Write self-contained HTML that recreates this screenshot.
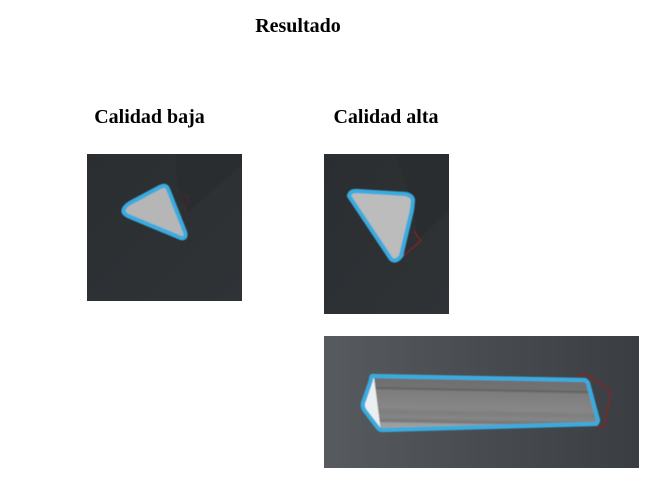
<!DOCTYPE html>
<html>
<head>
<meta charset="utf-8">
<style>
html,body{margin:0;padding:0;background:#fff;width:649px;height:491px;overflow:hidden}
svg{display:block}
text{font-family:"Liberation Serif",serif;font-weight:bold;fill:#000}
</style>
</head>
<body>
<svg width="649" height="491" viewBox="0 0 649 491">
<defs>
<linearGradient id="g1" x1="0" y1="0" x2="1" y2="1"><stop offset="0" stop-color="#2b2e31"/><stop offset="1" stop-color="#2f3336"/></linearGradient>
<linearGradient id="g3" x1="0" y1="0" x2="1" y2="0"><stop offset="0" stop-color="#575b5f"/><stop offset="0.5" stop-color="#484c50"/><stop offset="1" stop-color="#3a3e42"/></linearGradient>
<linearGradient id="prism" gradientUnits="userSpaceOnUse" x1="480" y1="378" x2="479" y2="430">
<stop offset="0" stop-color="#6f6f6f"/><stop offset="0.2" stop-color="#727272"/><stop offset="0.23" stop-color="#606060"/><stop offset="0.27" stop-color="#7d7d7d"/><stop offset="0.6" stop-color="#878787"/><stop offset="0.68" stop-color="#7e7e7e"/><stop offset="0.78" stop-color="#868686"/><stop offset="0.86" stop-color="#767676"/><stop offset="0.9" stop-color="#9c9c9c"/><stop offset="1" stop-color="#a2a2a2"/>
</linearGradient>
<filter id="soft" x="-5%" y="-5%" width="110%" height="110%"><feGaussianBlur stdDeviation="0.45"/></filter>
</defs>

<text x="298" y="32" text-anchor="middle" font-size="20">Resultado</text>
<text x="149.500" y="123" text-anchor="middle" font-size="20">Calidad baja</text>
<text x="386" y="123" text-anchor="middle" font-size="20">Calidad alta</text>

<g>
<rect x="87" y="154" width="155" height="147" fill="url(#g1)"/>
<polygon points="175,154 242,154 242,165 188,212 178,190" fill="#2a2d30"/>
<g filter="url(#soft)">
<polyline points="176,190 188,197 184,212" fill="none" stroke="#4a2a2c" stroke-width="1"/>
<path d="M124,209 Q125,206 130,203 L160,187 Q166,184 168,189 L185,232 Q187,239 181,238 L128,216 Q122,213 124,209 Z" fill="#b6b6b6" stroke="#3aabdf" stroke-width="4.200" stroke-linejoin="round"/>
</g>
</g>

<g>
<rect x="324" y="154" width="125" height="160" fill="url(#g1)"/>
<polygon points="395,154 449,154 449,210 418,240 412,200" fill="#2a2d30"/>
<g filter="url(#soft)">
<polyline points="402,257 421,241 414,231" fill="none" stroke="#8a2428" stroke-width="1.200"/>
<path d="M349,196 Q350,191 356,191 L405,194 Q412,195 413,200 L412,210 L401,256 Q396,263 391,259 L351,199 Z" fill="#bcbcbc" stroke="#3aabdf" stroke-width="4.200" stroke-linejoin="round"/>
</g>
</g>

<g>
<rect x="324" y="336" width="315" height="132" fill="url(#g3)"/>
<g filter="url(#soft)">
<polyline points="575,375 586,374 611,391 604,427 596,426" fill="none" stroke="#8a2428" stroke-width="1.200"/>
<polygon points="374,376 362,404 381,431" fill="#eceff1"/>
<polygon points="374,376 586,380 598,424 381,431" fill="url(#prism)"/>
<path d="M373,376 L585,380 Q587,381 588,383 L598,420 Q598,424 594,424 L382,430 Q380,430 378,428 L365,411 Q362,407 363,403 L371,380 Q371,376 373,376 Z" fill="none" stroke="#3aabdf" stroke-width="4.200" stroke-linejoin="round"/>
</g>
</g>
</svg>
</body>
</html>
